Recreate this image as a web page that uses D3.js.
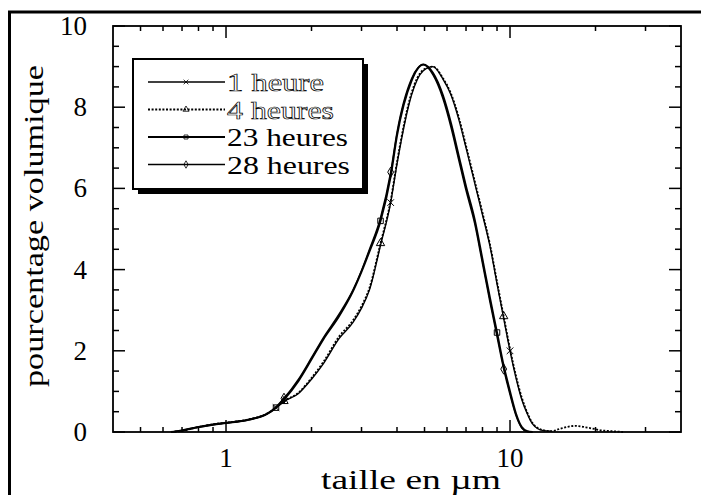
<!DOCTYPE html>
<html><head><meta charset="utf-8">
<script src="https://cdn.jsdelivr.net/npm/d3@7"></script>
<style>
html,body{margin:0;padding:0;background:#fff;}
svg{display:block;}
text{font-family:"Liberation Serif","Times New Roman",serif;}
</style></head>
<body>
<svg id="chart" width="701" height="495"></svg>
<script>
// ---- data ----
const sizes = [0.64,0.7,0.8,0.9,1,1.2,1.4,1.5,1.6,1.8,2,2.2,2.5,2.8,3,3.2,3.5,3.8,4,4.5,4.95,5.35,5.8,6.2,6.6,7,7.5,8,8.5,9,9.5,10,10.5,11,11.5,12,13,14,15,17,19,21,23,25];
const h1  = [0,0.03,0.12,0.18,0.22,0.3,0.45,0.6,0.75,0.95,1.3,1.68,2.3,2.7,3.05,3.5,4.6,5.65,6.6,8.3,8.9,9.0,8.7,8.3,7.7,7.0,6.15,5.35,4.58,3.65,2.8,2.0,1.33,0.8,0.45,0.2,0.04,0.02,null,null,null,null,null,null];
const h4  = [0,0.03,0.12,0.19,0.23,0.31,0.46,0.6,0.76,0.97,1.33,1.72,2.35,2.75,3.1,3.55,4.65,5.7,6.65,8.35,8.92,9.0,8.72,8.33,7.75,7.05,6.2,5.4,4.62,3.7,2.85,2.05,1.38,0.85,0.48,0.22,0.05,0.02,0.08,0.15,0.1,0.04,0.02,0];
const h23 = [0,0.04,0.12,0.18,0.22,0.3,0.45,0.6,0.8,1.26,1.79,2.28,2.85,3.47,3.95,4.45,5.2,6.3,7.3,8.65,9.05,8.85,8.3,7.6,6.8,6.05,5.25,4.25,3.3,2.45,1.63,1.0,0.45,0.12,0.02,0,null,null,null,null,null,null,null,null];
const h28 = [0,0.04,0.13,0.19,0.23,0.31,0.46,0.62,0.83,1.3,1.83,2.32,2.9,3.5,3.98,4.5,5.28,6.4,7.38,8.7,9.05,8.8,8.22,7.5,6.7,5.95,5.15,4.15,3.2,2.35,1.55,0.92,0.4,0.1,0.01,0,null,null,null,null,null,null,null,null];
const seriesNames = ["1 heure","4 heures","23 heures","28 heures"];
const markers1  = [1.5, 3.8, 10];
const markers4  = [1.6, 3.5, 9.5];
const markers23 = [1.5, 3.5, 9];
const markers28 = [1.6, 3.8, 9.5];
const yTicksMajor = [0,2,4,6,8,10];
const xTickLabels = [1,10];
const xTitle = "taille en µm";
const yTitle = "pourcentage volumique";

// ---- layout ----
const svg = d3.select("#chart");
const L = 113, R = 681, T = 26, B = 432;
const x = d3.scaleLog().domain([0.4, 40]).range([L, R]);
const y = d3.scaleLinear().domain([0, 10]).range([B, T]);

// outer frame (top + left)
svg.append("line").attr("x1",8).attr("x2",701).attr("y1",12).attr("y2",12).attr("stroke","#000").attr("stroke-width",3);
svg.append("line").attr("x1",9.5).attr("x2",9.5).attr("y1",11).attr("y2",495).attr("stroke","#000").attr("stroke-width",3);

// plot box
svg.append("rect").attr("x",L).attr("y",T).attr("width",R-L).attr("height",B-T)
  .attr("fill","none").attr("stroke","#000").attr("stroke-width",1.8);

// x ticks (minor / major), inward on bottom and top
const xMinor = [];
[0.1,1,10].forEach(d => { for (let k=1;k<10;k++){ const v=d*k; if (v>0.4 && v<40) xMinor.push(v);} });
const isMajorX = v => Math.abs(Math.log10(v) - Math.round(Math.log10(v))) < 1e-9;
const gx = svg.append("g");
xMinor.forEach(v => {
  const len = isMajorX(v) ? 12 : 5;
  gx.append("line").attr("x1",x(v)).attr("x2",x(v)).attr("y1",B).attr("y2",B-len).attr("stroke","#000").attr("stroke-width",1.5);
  gx.append("line").attr("x1",x(v)).attr("x2",x(v)).attr("y1",T).attr("y2",T+len).attr("stroke","#000").attr("stroke-width",1.5);
});
xTickLabels.forEach(v => {
  svg.append("text").attr("x",x(v)).attr("y",467).attr("text-anchor","middle").attr("font-size",27).style("fill","#000").text(v);
});

// y ticks
const yMinor = d3.range(0, 10.01, 0.5);
const gy = svg.append("g");
yMinor.forEach(v => {
  const major = yTicksMajor.includes(v);
  const len = major ? 12 : 6;
  gy.append("line").attr("x1",L).attr("x2",L+len).attr("y1",y(v)).attr("y2",y(v)).attr("stroke","#000").attr("stroke-width",1.5);
  gy.append("line").attr("x1",R).attr("x2",R-len).attr("y1",y(v)).attr("y2",y(v)).attr("stroke","#000").attr("stroke-width",1.5);
});
yTicksMajor.forEach(v => {
  svg.append("text").attr("x",87).attr("y",y(v)+9).attr("text-anchor","end").attr("font-size",27).style("fill","#000").text(v);
});

// axis titles
svg.append("text").attr("x",411).attr("y",489).attr("text-anchor","middle").attr("font-size",28).style("fill","#000")
  .attr("textLength",180).attr("lengthAdjust","spacingAndGlyphs").text(xTitle);
svg.append("text").attr("transform","translate(43,226) rotate(-90)").attr("text-anchor","middle").attr("font-size",28).style("fill","#000")
  .attr("textLength",322).attr("lengthAdjust","spacingAndGlyphs").text(yTitle);

// series
const series = [
  {name: seriesNames[0], vals: h1,  marks: markers1,  width: 1.4, dash: null,    sym: d3.symbolTimes,    tl: 97},
  {name: seriesNames[1], vals: h4,  marks: markers4,  width: 1.8, dash: "2,1.6", sym: d3.symbolTriangle, tl: 107},
  {name: seriesNames[2], vals: h23, marks: markers23, width: 2.0, dash: null,    sym: d3.symbolSquare,   tl: 121},
  {name: seriesNames[3], vals: h28, marks: markers28, width: 1.5, dash: null,    sym: d3.symbolDiamond,  tl: 123}
];
const line = d3.line()
  .defined(d => d[1] !== null)
  .x(d => x(d[0])).y(d => y(d[1]))
  .curve(d3.curveMonotoneX);

const gs = svg.append("g");
series.forEach(s => {
  const pts = sizes.map((v,i) => [v, s.vals[i]]);
  gs.append("path").attr("d", line(pts)).attr("fill","none").attr("stroke","#000")
    .attr("stroke-width", s.width).attr("stroke-dasharray", s.dash).attr("stroke-linejoin","round");
  s.marks.forEach(m => {
    const i = sizes.indexOf(m);
    if (i < 0 || s.vals[i] === null) return;
    gs.append("path").attr("d", d3.symbol().type(s.sym).size(30)())
      .attr("transform", `translate(${x(m)},${y(s.vals[i])})`)
      .attr("fill","none").attr("stroke","#000").attr("stroke-width",1);
  });
});

// legend
const lg = svg.append("g");
const bx = 133, by = 59, bw = 230, bh = 130;
lg.append("rect").attr("x",bx+5).attr("y",by+5).attr("width",bw).attr("height",bh).attr("fill","#000");
lg.append("rect").attr("x",bx).attr("y",by).attr("width",bw).attr("height",bh).attr("fill","#fff").attr("stroke","#000").attr("stroke-width",2);
const rowY = [82, 109.5, 137, 164.5];
series.forEach((s,i) => {
  lg.append("line").attr("x1",148).attr("x2",225).attr("y1",rowY[i]).attr("y2",rowY[i])
    .attr("stroke","#000").attr("stroke-width", s.width).attr("stroke-dasharray", s.dash);
  lg.append("path").attr("d", d3.symbol().type(s.sym).size(16)())
    .attr("transform",`translate(186,${rowY[i]})`).attr("fill","none").attr("stroke","#000").attr("stroke-width",0.8);
  const t = lg.append("text").attr("x",227).attr("y",rowY[i]+9).attr("font-size",26)
    .attr("textLength", s.tl).attr("lengthAdjust","spacingAndGlyphs").text(s.name);
  if (i < 2) t.style("fill","#fff").style("stroke","#000").style("stroke-width",0.7);
  else t.style("fill","#000");
});
</script>
</body></html>
